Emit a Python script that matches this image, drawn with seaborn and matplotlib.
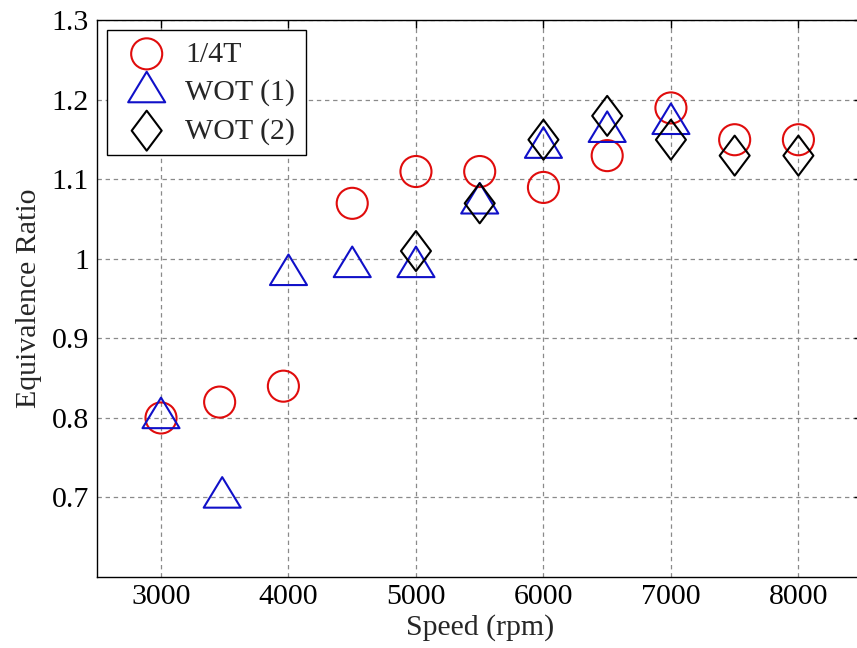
import numpy as np
import matplotlib
matplotlib.use("Agg")
import matplotlib.pyplot as plt
from matplotlib.path import Path
import seaborn as sns

# ── Data ──────────────────────────────────────────────────────────────────────
speed_quarter = [3000, 3460, 3960, 4500, 5000, 5500, 6000, 6500, 7000, 7500, 8000]
phi_quarter   = [0.80, 0.82, 0.84, 1.07, 1.11, 1.11, 1.09, 1.13, 1.19, 1.15, 1.15]

speed_wot1 = [3000, 3480, 4000, 4500, 5000, 5500, 6000, 6500, 7000]
phi_wot1   = [0.80, 0.70, 0.98, 0.99, 0.99, 1.07, 1.14, 1.16, 1.17]

speed_wot2 = [5000, 5500, 6000, 6500, 7000, 7500, 8000]
phi_wot2   = [1.01, 1.07, 1.15, 1.18, 1.15, 1.13, 1.13]

series_labels = ["1/4T", "WOT (1)", "WOT (2)"]
x_ticks = [3000, 4000, 5000, 6000, 7000, 8000]
y_ticks = [0.7, 0.8, 0.9, 1.0, 1.1, 1.2, 1.3]
y_tick_labels = ["0.7", "0.8", "0.9", "1", "1.1", "1.2", "1.3"]

# ── Style ─────────────────────────────────────────────────────────────────────
sns.set_style("whitegrid")
plt.rcParams["font.family"] = ["Liberation Serif", "DejaVu Serif"]
plt.rcParams["axes.unicode_minus"] = False

# MATLAB-like markers: wide triangle (centroid centred), narrow diamond
tri_marker = Path([(-1, -0.55), (1, -0.55), (0, 1.1), (-1, -0.55)],
                  [Path.MOVETO, Path.LINETO, Path.LINETO, Path.CLOSEPOLY])
dia_marker = Path([(0, 1), (0.75, 0), (0, -1), (-0.75, 0), (0, 1)],
                  [Path.MOVETO, Path.LINETO, Path.LINETO, Path.LINETO, Path.CLOSEPOLY])

fig, ax = plt.subplots(figsize=(8.57, 6.48), dpi=100)
fig.subplots_adjust(left=0.1135, right=1.006, bottom=0.1096, top=0.9684)

lw = 1.5
sns.scatterplot(x=speed_quarter, y=phi_quarter, ax=ax, marker="o", s=500,
                facecolor="none", edgecolor="#e00c0c", linewidth=lw,
                label=series_labels[0], zorder=3)
sns.scatterplot(x=speed_wot1, y=phi_wot1, ax=ax, marker=tri_marker, s=860,
                facecolor="none", edgecolor="#1010c8", linewidth=lw,
                label=series_labels[1], zorder=4)
sns.scatterplot(x=speed_wot2, y=phi_wot2, ax=ax, marker=dia_marker, s=830,
                facecolor="none", edgecolor="black", linewidth=lw,
                label=series_labels[2], zorder=5)

# ── Axes ──────────────────────────────────────────────────────────────────────
ax.set_xlim(2500, 8500)
ax.set_ylim(0.6, 1.3)
ax.set_xticks(x_ticks)
ax.set_yticks(y_ticks)
ax.set_yticklabels(y_tick_labels)

ax.grid(True, color="#8a8a8a", linewidth=0.9, linestyle=(0, (3.5, 3)))
ax.set_axisbelow(True)
for sp in ax.spines.values():
    sp.set_color("black")
    sp.set_linewidth(1.0)
    sp.set_visible(True)

ax.tick_params(axis="both", which="both", direction="in", length=6, width=1.0,
               top=True, right=True, labelsize=21.5, colors="black", pad=5)
ax.tick_params(axis="y", pad=6)

ax.set_xlabel("Speed (rpm)", fontsize=21.5, labelpad=3)
ax.set_ylabel("Equivalence Ratio", fontsize=21.5, labelpad=7)

leg = ax.legend(loc="upper left", fontsize=21.5, frameon=True, fancybox=False,
                edgecolor="black", framealpha=1, borderaxespad=0.33,
                borderpad=0.35, handlelength=1.95, handletextpad=0.32,
                labelspacing=0.38, scatterpoints=1)
leg.get_frame().set_linewidth(1.0)

fig.savefig("out.png", dpi=100)
